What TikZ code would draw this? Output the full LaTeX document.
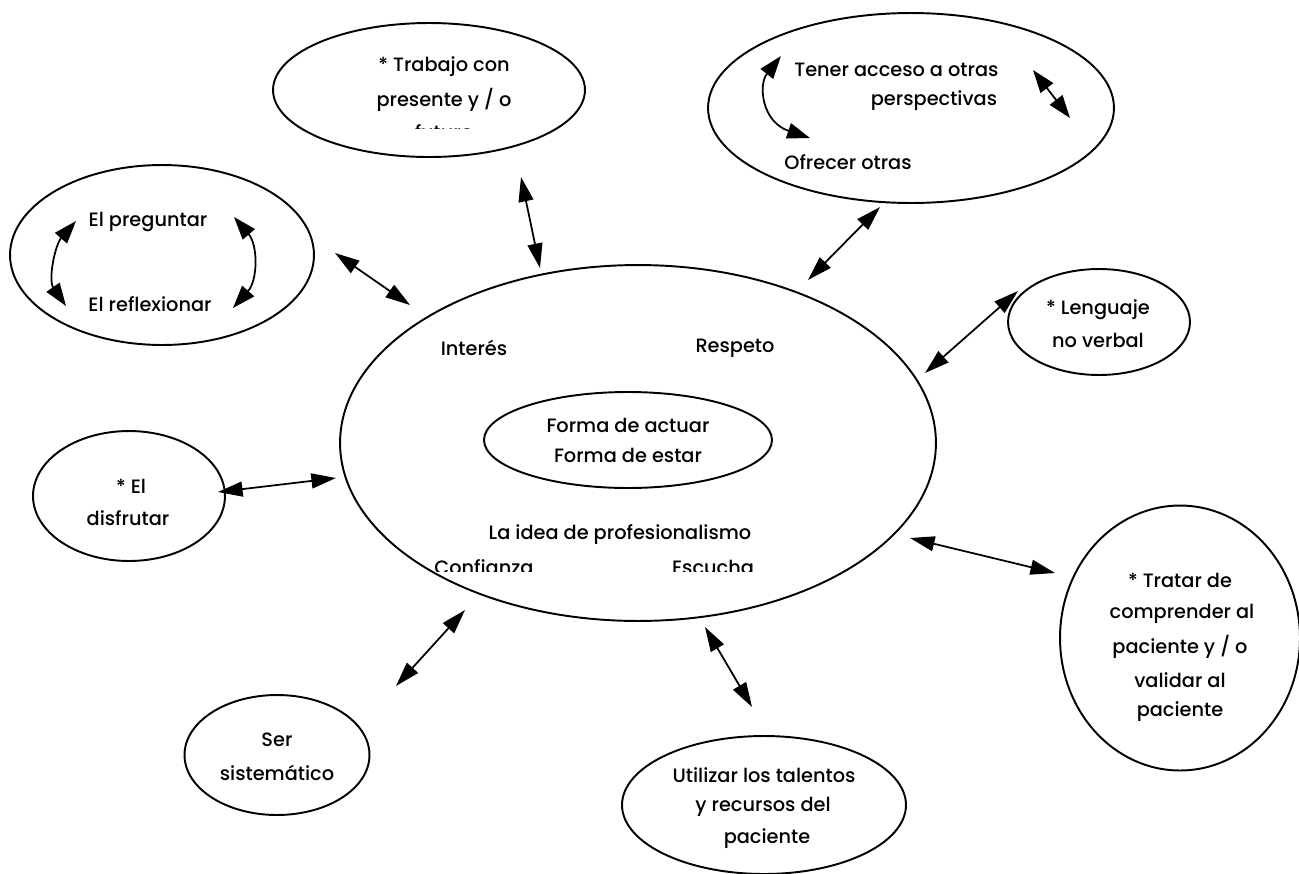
\documentclass[tikz,border=0pt]{standalone}
\usepackage{fontspec}
\setmainfont{Poppins Medium}
\usetikzlibrary{shapes.geometric,arrows.meta}
\begin{document}
\begin{tikzpicture}[x=0.02cm,y=-0.02cm,
  bubble/.style={draw,ellipse,line width=1.1pt,inner sep=0pt},
  lbl/.style={inner sep=0pt,font=\fontsize{11}{13}\selectfont,align=center},
  link/.style={{Triangle[length=14pt,width=8.5pt]}-{Triangle[length=14pt,width=8.5pt]},line width=1pt},
  loop/.style={{Triangle[length=13pt,width=9pt]}-{Triangle[length=13pt,width=9pt]},line width=1pt}]
\useasboundingbox (0,0) rectangle (1299,873);

% bubbles
\node[bubble,minimum width=11.92cm,minimum height=7.12cm] (centre) at (638,443) {};
\node[bubble,minimum width=5.76cm,minimum height=1.92cm] (core) at (628,440) {};
\node[bubble,minimum width=6.24cm,minimum height=2.68cm] (trab) at (429,90) {};
\node[bubble,minimum width=8.12cm,minimum height=3.8cm] (persp) at (911,108) {};
\node[bubble,minimum width=6.08cm,minimum height=3.6cm] (preg) at (162,255) {};
\node[bubble,minimum width=3.64cm,minimum height=2.12cm] (leng) at (1099,322) {};
\node[bubble,minimum width=3.84cm,minimum height=2.6cm] (disf) at (129,496) {};
\node[bubble,minimum width=4.8cm,minimum height=5.3cm] (trat) at (1180,638) {};
\node[bubble,minimum width=3.7cm,minimum height=2.4cm] (ser) at (277,755) {};
\node[bubble,minimum width=5.68cm,minimum height=2.76cm] (util) at (764,805) {};

% texts
\node[lbl] (t1) at (444,67) {* Trabajo con};
\node[lbl] (t2) at (444,100) {presente y / o};
\begin{scope}
  \clip (380,112) rectangle (510,128);
  \node[lbl] (t3) at (444,132) {futuro};
\end{scope}
\node[lbl,anchor=west] (p1) at (794,70) {Tener acceso a otras};
\node[lbl] (p2) at (934,101) {perspectivas};
\node[lbl] (p3) at (848,162) {Ofrecer otras};
\node[lbl] (q1) at (148,222) {El preguntar};
\node[lbl] (q2) at (150,304) {El reflexionar};
\node[lbl] (c1) at (474,348) {Interés};
\node[lbl] (c2) at (735,348) {Respeto};
\node[lbl] (c3) at (628,425) {Forma de actuar};
\node[lbl] (c4) at (628,455) {Forma de estar};
\node[lbl] (c5) at (620,535) {La idea de profesionalismo};
\begin{scope}
  \clip (420,552) rectangle (800,571);
  \node[lbl] (c6) at (484,567) {Confianza};
  \node[lbl] (c7) at (713,567) {Escucha};
\end{scope}
\node[lbl] (l1) at (1098,310) {* Lenguaje};
\node[lbl] (l2) at (1098,340) {no verbal};
\node[lbl] (d1) at (131,486) {* El};
\node[lbl] (d2) at (128,518) {disfrutar};
\node[lbl] (r1) at (1180,580) {* Tratar de};
\node[lbl] (r2) at (1182,614) {comprender al};
\node[lbl] (r3) at (1180,647) {paciente y / o};
\node[lbl] (r4) at (1180,680) {validar al};
\node[lbl] (r5) at (1180,712) {paciente};
\node[lbl] (s1) at (277,740) {Ser};
\node[lbl] (s2) at (277,773) {sistemático};
\node[lbl] (u1) at (764,775) {Utilizar los talentos};
\node[lbl] (u2) at (763,807) {y recursos del};
\node[lbl] (u3) at (767,839) {paciente};

% connector ends
\coordinate (a1) at (521,177); \coordinate (b1) at (540,268);
\coordinate (a2) at (880,207); \coordinate (b2) at (808,280);
\coordinate (a3) at (335,253); \coordinate (b3) at (410,305);
\coordinate (a4) at (1018,291); \coordinate (b4) at (925,373);
\coordinate (a5) at (218,492); \coordinate (b5) at (336,478);
\coordinate (a6) at (910,538); \coordinate (b6) at (1055,573);
\coordinate (a7) at (396,686); \coordinate (b7) at (465,610);
\coordinate (a8) at (705,627); \coordinate (b8) at (752,707);

\draw[link] (a1) -- (b1);
\draw[link] (a2) -- (b2);
\draw[link] (a3) -- (b3);
\draw[link] (a4) -- (b4);
\draw[link] (a5) -- (b5);
\draw[link] (a6) -- (b6);
\draw[link] (a7) -- (b7);
\draw[link] (a8) -- (b8);

% loops inside the bubbles
\coordinate (g1) at (781,56); \coordinate (h1) at (810,138);
\draw[loop] (g1) .. controls (758,85) and (762,122) .. (h1);
\coordinate (g2) at (1033,70); \coordinate (h2) at (1070,118);
\draw[loop] (g2) -- (h2);
\coordinate (g3) at (76,221); \coordinate (h3) at (66,306);
\draw[loop] (g3) .. controls (55,245) and (48,280) .. (h3);
\coordinate (g4) at (234,217); \coordinate (h4) at (233,308);
\draw[loop] (g4) .. controls (258,245) and (258,280) .. (h4);
\end{tikzpicture}
\end{document}
